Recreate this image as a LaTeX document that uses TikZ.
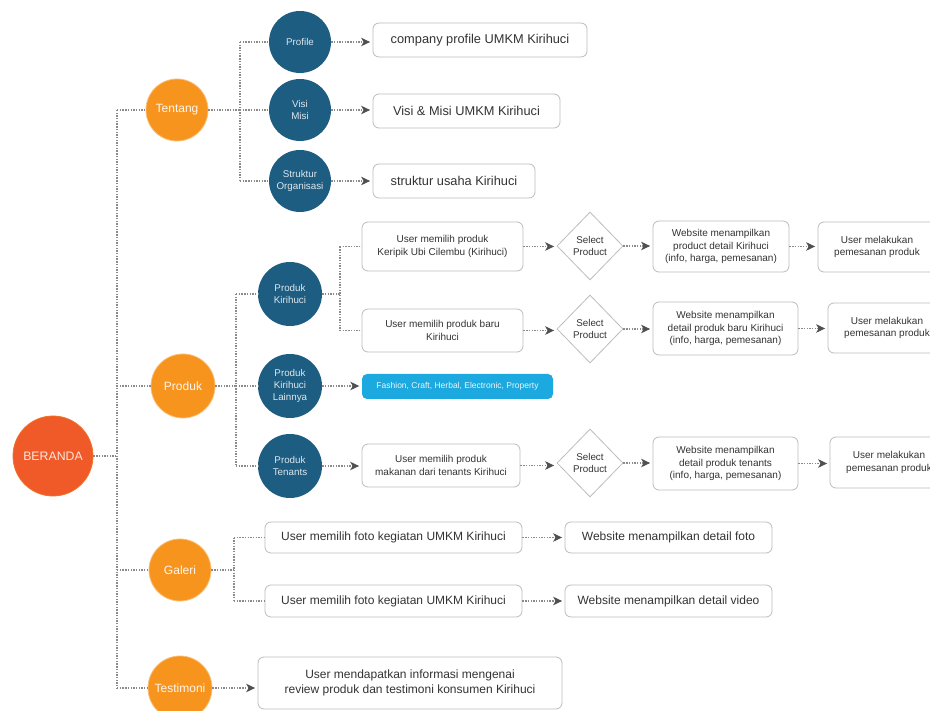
\documentclass[tikz,border=0pt]{standalone}
\usepackage{fontspec}
\setmainfont{Liberation Sans}
\usetikzlibrary{arrows.meta,shapes.geometric}
\definecolor{orng}{HTML}{F7941E}
\definecolor{berc}{HTML}{EF5A28}
\definecolor{blu}{HTML}{1E5D82}
\definecolor{cyn}{HTML}{1CA9DF}
\definecolor{boxgray}{HTML}{BDBDBD}
\definecolor{linegray}{HTML}{8A8A8A}
\definecolor{arrowgray}{HTML}{505050}
\definecolor{txt}{HTML}{333333}
\tikzset{
  conn/.style={draw=linegray, line width=1.1pt, dash pattern=on 1.4pt off 1.3pt},
  arr/.style={conn, shorten >=2.5pt, -{Stealth[length=9pt,width=8.5pt,inset=2.5pt,color=arrowgray]}},
  ocirc/.style={circle, fill=orng, draw=orng!60, line width=0.8pt, minimum size=#1, inner sep=0pt, text=white!92!orng, align=center, font=\fontsize{12}{14}\selectfont},
  bcirc/.style={circle, fill=blu, minimum size=#1, inner sep=0pt, text=white!85!blu, align=center, font=\fontsize{9.8}{12}\selectfont},
  bx/.style n args={2}{draw=boxgray, line width=0.8pt, rounded corners=6pt, fill=white, text=txt, align=center, inner sep=0pt, minimum width=#1, minimum height=#2},
  fbig/.style={font=\fontsize{12.8}{15}\selectfont},
  fmid/.style={font=\fontsize{12}{14.5}\selectfont},
  fsm/.style={font=\fontsize{10}{12.5}\selectfont},
  dia/.style={diamond, draw=boxgray, line width=0.8pt, fill=white, text=txt, align=center, inner sep=0pt, minimum width=66pt, minimum height=68pt, font=\fontsize{9.8}{12}\selectfont}
}
\begin{document}
\begin{tikzpicture}[x=1pt,y=-1pt]
\useasboundingbox (0,0) rectangle (930,711);
\fill[white] (0,0) rectangle (930,711);

% main nodes
\node[circle, fill=berc, draw=berc!60!orng, line width=0.8pt, minimum size=80pt, inner sep=0pt, text=white!85!berc, font=\fontsize{12.3}{14}\selectfont] (beranda) at (53,456) {BERANDA};
\node[ocirc=62pt] (tentang) at (177,110) {Tentang};
\node[ocirc=64pt] (produk) at (183,386) {Produk};
\node[ocirc=62pt] (galeri) at (180,570) {Galeri};
\node[ocirc=64pt] (testi) at (180,688) {Testimoni};

% Tentang children
\node[bcirc=62pt] (profile) at (300,42) {Profile};
\node[bcirc=62pt] (visi) at (300,110) {Visi\\Misi};
\node[bcirc=62pt] (struktur) at (300,181) {Struktur\\Organisasi};
\node[bx={214pt}{34pt}, fbig] (pb1) at (480,40) {company profile UMKM Kirihuci};
\node[bx={187pt}{34pt}, fbig] (pb2) at (466.5,111) {Visi \& Misi UMKM Kirihuci};
\node[bx={162pt}{34pt}, fbig] (pb3) at (454,181) {struktur usaha Kirihuci};

% Produk children
\node[bcirc=64pt] (pk) at (290,294) {Produk\\Kirihuci};
\node[bcirc=64pt] (pkl) at (290,386) {Produk\\Kirihuci\\Lainnya};
\node[bcirc=64pt] (pt) at (290,466) {Produk\\Tenants};

\node[bx={161pt}{49pt}, fsm] (k1) at (442.5,246.5) {User memilih produk\\Keripik Ubi Cilembu (Kirihuci)};
\node[bx={161pt}{43pt}, fsm] (k2) at (442.5,330.5) {User memilih produk baru\\Kirihuci};
\node[dia] (d1) at (590,246) {Select\\Product};
\node[dia] (d2) at (590,329) {Select\\Product};
\node[bx={136pt}{51pt}, fsm] (w1) at (721,246.5) {Website menampilkan\\product detail Kirihuci\\(info, harga, pemesanan)};
\node[bx={145pt}{53pt}, fsm] (w2) at (725.5,328.5) {Website menampilkan\\detail produk baru Kirihuci\\(info, harga, pemesanan)};
\node[bx={118pt}{50pt}, fsm] (o1) at (877,247) {User melakukan\\pemesanan produk};
\node[bx={118pt}{50pt}, fsm] (o2) at (887,328) {User melakukan\\pemesanan produk};

\node[fill=cyn, rounded corners=5pt, minimum width=191pt, minimum height=25pt, inner sep=0pt, text=white!90!cyn, font=\fontsize{8.5}{10}\selectfont] (cy) at (457.5,386.5) {Fashion, Craft, Herbal, Electronic, Property};

\node[bx={158pt}{43pt}, fsm] (t1) at (441,465.5) {User memilih produk\\makanan dari tenants Kirihuci};
\node[dia] (d3) at (590,463) {Select\\Product};
\node[bx={145pt}{53pt}, fsm] (w3) at (725.5,463.5) {Website menampilkan\\detail produk tenants\\(info, harga, pemesanan)};
\node[bx={118pt}{51pt}, fsm] (o3) at (889,462.5) {User melakukan\\pemesanan produk};

% Galeri children
\node[bx={257pt}{31pt}, fmid] (g1) at (393.5,537.5) {User memilih foto kegiatan UMKM Kirihuci};
\node[bx={257pt}{32pt}, fmid] (g2) at (393.5,601) {User memilih foto kegiatan UMKM Kirihuci};
\node[bx={207pt}{31pt}, fmid] (gr1) at (668.5,537.5) {Website menampilkan detail foto};
\node[bx={207pt}{32pt}, fmid] (gr2) at (668.5,601) {Website menampilkan detail video};

% Testimoni child
\node[bx={304pt}{52pt}, fmid] (tb) at (410,683) {User mendapatkan informasi mengenai\\review produk dan testimoni konsumen Kirihuci};

% spine from BERANDA
\coordinate (sp) at (117,456);
\draw[conn] (beranda.east) -- (sp);
\draw[conn] (sp |- tentang) -- (sp |- testi);
\foreach \n in {tentang,produk,galeri,testi} \draw[conn] (sp |- \n) -- (\n.west);

% Tentang branch
\coordinate (ts) at (240,110);
\draw[conn] (tentang.east) -- (ts);
\draw[conn] (ts |- profile) -- (ts |- struktur);
\foreach \n in {profile,visi,struktur} \draw[conn] (ts |- \n) -- (\n.west);
\draw[arr] (profile.east) -- (profile.east -| pb1.west);
\draw[arr] (visi.east) -- (visi.east -| pb2.west);
\draw[arr] (struktur.east) -- (struktur.east -| pb3.west);

% Produk branch
\coordinate (ps) at (236,386);
\draw[conn] (produk.east) -- (ps);
\draw[conn] (ps |- pk) -- (ps |- pt);
\foreach \n in {pk,pkl,pt} \draw[conn] (ps |- \n) -- (\n.west);

\coordinate (ks) at (340,294);
\draw[conn] (pk.east) -- (ks);
\draw[conn] (ks |- k1) -- (ks |- k2);
\draw[conn] (ks |- k1) -- (k1.west);
\draw[conn] (ks |- k2) -- (k2.west);

\draw[arr] (k1.east) -- (k1.east -| d1.west);
\draw[arr] (d1.east) -- (d1.east -| w1.west);
\draw[arr] (w1.east) -- (w1.east -| o1.west);
\draw[arr] (k2.east) -- (k2.east -| d2.west);
\draw[arr] (d2.east) -- (d2.east -| w2.west);
\draw[arr] (w2.east) -- (w2.east -| o2.west);

\draw[arr] (pkl.east) -- (pkl.east -| cy.west);

\draw[arr] (pt.east) -- (pt.east -| t1.west);
\draw[arr] (t1.east) -- (t1.east -| d3.west);
\draw[arr] (d3.east) -- (d3.east -| w3.west);
\draw[arr] (w3.east) -- (w3.east -| o3.west);

% Galeri branch
\coordinate (gs) at (234,570);
\draw[conn] (galeri.east) -- (gs);
\draw[conn] (gs |- g1) -- (gs |- g2);
\draw[conn] (gs |- g1) -- (g1.west);
\draw[conn] (gs |- g2) -- (g2.west);
\draw[arr] (g1.east) -- (gr1.west);
\draw[arr] (g2.east) -- (gr2.west);

% Testimoni
\draw[arr] (testi.east) -- (testi.east -| tb.west);
\end{tikzpicture}
\end{document}
